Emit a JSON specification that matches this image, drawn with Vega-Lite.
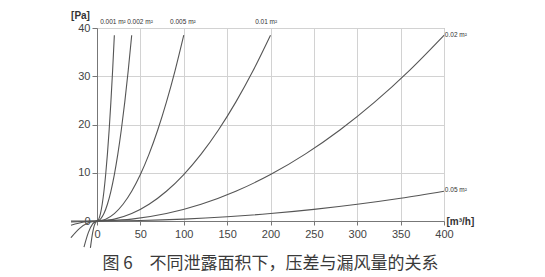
{
  "$schema": "https://vega.github.io/schema/vega-lite/v6.json",
  "width": 347,
  "height": 193,
  "autosize": {"type": "none"},
  "padding": {"left": 97, "top": 28, "right": 101, "bottom": 56},
  "background": "white",
  "config": {
    "view": {"stroke": "#9a9a9a", "strokeWidth": 1},
    "font": "Liberation Sans"
  },
  "title": {
    "text": "图 6　不同泄露面积下，压差与漏风量的关系",
    "orient": "bottom",
    "anchor": "middle",
    "font": "Noto Sans CJK SC",
    "fontSize": 17,
    "fontWeight": "normal",
    "color": "#3a3a3a",
    "baseline": "top",
    "offset": 6
  },
  "layer": [
    {
      "data": {
        "values": [
          {"s": "0.001", "q": -7.6, "p": -5.56},
          {"s": "0.001", "q": -5, "p": -2.41},
          {"s": "0.001", "q": -3, "p": -0.87},
          {"s": "0.001", "q": 0, "p": 0},
          {"s": "0.001", "q": 2, "p": 0.385},
          {"s": "0.001", "q": 4, "p": 1.54},
          {"s": "0.001", "q": 6, "p": 3.465},
          {"s": "0.001", "q": 8, "p": 6.16},
          {"s": "0.001", "q": 10, "p": 9.625},
          {"s": "0.001", "q": 12, "p": 13.86},
          {"s": "0.001", "q": 14, "p": 18.865},
          {"s": "0.001", "q": 16, "p": 24.64},
          {"s": "0.001", "q": 18, "p": 31.185},
          {"s": "0.001", "q": 20, "p": 38.5},
          {"s": "0.002", "q": -15, "p": -5.41},
          {"s": "0.002", "q": -10, "p": -2.41},
          {"s": "0.002", "q": -5, "p": -0.6},
          {"s": "0.002", "q": 0, "p": 0},
          {"s": "0.002", "q": 4, "p": 0.385},
          {"s": "0.002", "q": 8, "p": 1.54},
          {"s": "0.002", "q": 12, "p": 3.465},
          {"s": "0.002", "q": 16, "p": 6.16},
          {"s": "0.002", "q": 20, "p": 9.625},
          {"s": "0.002", "q": 24, "p": 13.86},
          {"s": "0.002", "q": 28, "p": 18.865},
          {"s": "0.002", "q": 32, "p": 24.64},
          {"s": "0.002", "q": 36, "p": 31.185},
          {"s": "0.002", "q": 40, "p": 38.5},
          {"s": "0.005", "q": -30, "p": -3.47},
          {"s": "0.005", "q": -20, "p": -1.54},
          {"s": "0.005", "q": -10, "p": -0.385},
          {"s": "0.005", "q": 0, "p": 0},
          {"s": "0.005", "q": 10, "p": 0.385},
          {"s": "0.005", "q": 20, "p": 1.54},
          {"s": "0.005", "q": 30, "p": 3.465},
          {"s": "0.005", "q": 40, "p": 6.16},
          {"s": "0.005", "q": 50, "p": 9.625},
          {"s": "0.005", "q": 60, "p": 13.86},
          {"s": "0.005", "q": 70, "p": 18.865},
          {"s": "0.005", "q": 80, "p": 24.64},
          {"s": "0.005", "q": 90, "p": 31.185},
          {"s": "0.005", "q": 100, "p": 38.5},
          {"s": "0.01", "q": -30, "p": -0.87},
          {"s": "0.01", "q": -15, "p": -0.22},
          {"s": "0.01", "q": 0, "p": 0},
          {"s": "0.01", "q": 20, "p": 0.385},
          {"s": "0.01", "q": 40, "p": 1.54},
          {"s": "0.01", "q": 60, "p": 3.465},
          {"s": "0.01", "q": 80, "p": 6.16},
          {"s": "0.01", "q": 100, "p": 9.625},
          {"s": "0.01", "q": 120, "p": 13.86},
          {"s": "0.01", "q": 140, "p": 18.865},
          {"s": "0.01", "q": 160, "p": 24.64},
          {"s": "0.01", "q": 180, "p": 31.185},
          {"s": "0.01", "q": 200, "p": 38.5},
          {"s": "0.02", "q": -30, "p": -0.22},
          {"s": "0.02", "q": 0, "p": 0},
          {"s": "0.02", "q": 40, "p": 0.385},
          {"s": "0.02", "q": 80, "p": 1.54},
          {"s": "0.02", "q": 120, "p": 3.465},
          {"s": "0.02", "q": 160, "p": 6.16},
          {"s": "0.02", "q": 200, "p": 9.625},
          {"s": "0.02", "q": 240, "p": 13.86},
          {"s": "0.02", "q": 280, "p": 18.865},
          {"s": "0.02", "q": 320, "p": 24.64},
          {"s": "0.02", "q": 360, "p": 31.185},
          {"s": "0.02", "q": 400, "p": 38.5},
          {"s": "0.05", "q": -30, "p": -0.035},
          {"s": "0.05", "q": 0, "p": 0},
          {"s": "0.05", "q": 50, "p": 0.096},
          {"s": "0.05", "q": 100, "p": 0.385},
          {"s": "0.05", "q": 150, "p": 0.866},
          {"s": "0.05", "q": 200, "p": 1.54},
          {"s": "0.05", "q": 250, "p": 2.406},
          {"s": "0.05", "q": 300, "p": 3.465},
          {"s": "0.05", "q": 350, "p": 4.716},
          {"s": "0.05", "q": 400, "p": 6.16}
        ]
      },
      "mark": {"type": "line", "interpolate": "monotone", "color": "#555555", "strokeWidth": 1.1},
      "encoding": {
        "x": {
          "field": "q", "type": "quantitative",
          "scale": {"domain": [0, 400], "nice": false, "zero": false},
          "axis": {
            "values": [0, 50, 100, 150, 200, 250, 300, 350, 400],
            "title": "[m³/h]",
            "titleFontSize": 10,
            "titleFontWeight": "bold",
            "titleColor": "#333",
            "titleAngle": 0,
            "titleX": 349,
            "titleY": 0,
            "titleAlign": "left",
            "titleBaseline": "middle",
            "labelFontSize": 11,
            "labelColor": "#444",
            "labelPadding": 3,
            "tickSize": 4,
            "tickColor": "#777",
            "domainColor": "#777",
            "gridColor": "#d2d2d2",
            "labelFlush": false
          }
        },
        "y": {
          "field": "p", "type": "quantitative",
          "scale": {"domain": [0, 40], "nice": false, "zero": false},
          "axis": {
            "values": [0, 10, 20, 30, 40],
            "title": "[Pa]",
            "titleFontSize": 10,
            "titleFontWeight": "bold",
            "titleColor": "#333",
            "titleAngle": 0,
            "titleX": -17,
            "titleY": -13,
            "titleAlign": "center",
            "titleBaseline": "middle",
            "labelFontSize": 11,
            "labelColor": "#444",
            "labelPadding": 2,
            "tickSize": 5,
            "tickColor": "#777",
            "domainColor": "#777",
            "gridColor": "#d2d2d2",
            "labelFlush": false
          }
        },
        "detail": {"field": "s", "type": "nominal"}
      }
    },
    {
      "data": {
        "values": [
          {"label": "0.001 m²", "q": 18.4, "p": 41.2},
          {"label": "0.002 m²", "q": 49.6, "p": 41.2},
          {"label": "0.005 m²", "q": 99, "p": 41.2},
          {"label": "0.01 m²", "q": 195, "p": 41.2}
        ]
      },
      "mark": {"type": "text", "fontSize": 6.5, "color": "#333", "align": "center", "baseline": "middle"},
      "encoding": {
        "x": {"field": "q", "type": "quantitative"},
        "y": {"field": "p", "type": "quantitative"},
        "text": {"field": "label"}
      }
    },
    {
      "data": {
        "values": [
          {"label": "0.02 m²", "q": 401, "p": 38.6},
          {"label": "0.05 m²", "q": 401, "p": 6.4}
        ]
      },
      "mark": {"type": "text", "fontSize": 6.5, "color": "#333", "align": "left", "baseline": "middle"},
      "encoding": {
        "x": {"field": "q", "type": "quantitative"},
        "y": {"field": "p", "type": "quantitative"},
        "text": {"field": "label"}
      }
    }
  ]
}
